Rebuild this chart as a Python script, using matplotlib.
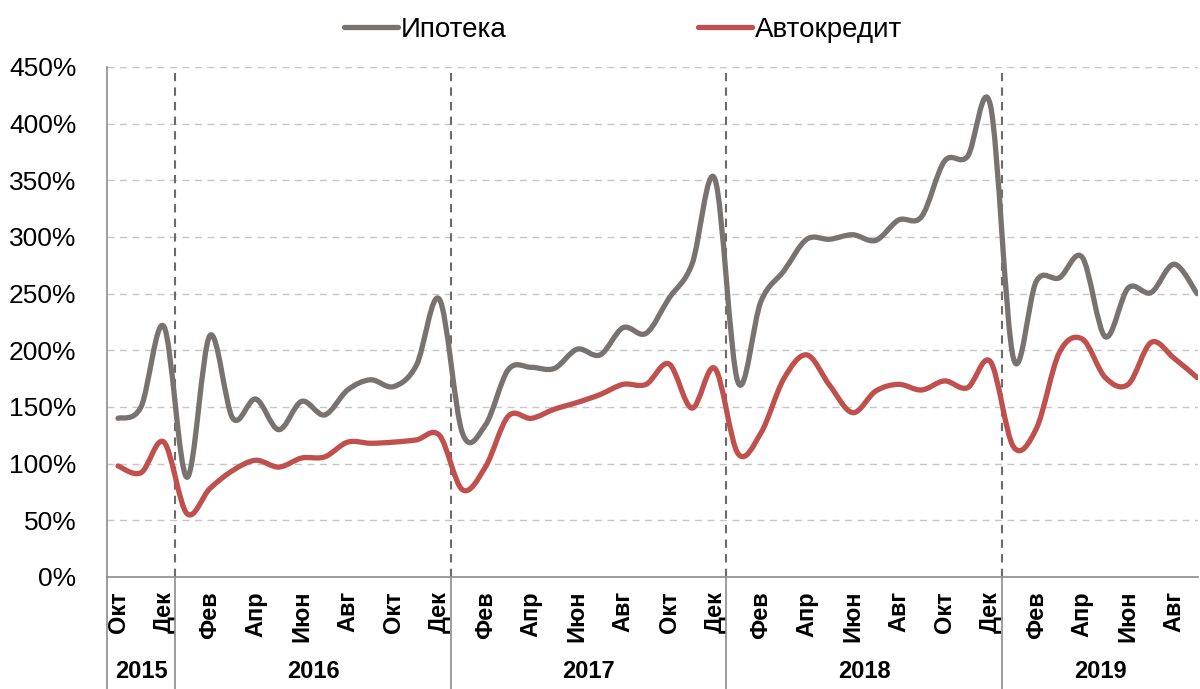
import numpy as np
import matplotlib
matplotlib.use('Agg')
import matplotlib.pyplot as plt
from matplotlib.path import Path
from matplotlib.patches import PathPatch
from matplotlib.lines import Line2D
import matplotlib.transforms as mtransforms
from matplotlib import font_manager

# ---------------- data ----------------
month_names = ['Янв', 'Фев', 'Мар', 'Апр', 'Май', 'Июн',
               'Июл', 'Авг', 'Сен', 'Окт', 'Ноя', 'Дек']
years = ['2015', '2016', '2017', '2018', '2019']
year_counts = [3, 12, 12, 12, 9]
start_month = 9  # Oct 2015

mortgage = [140, 150, 221, 88, 213, 140, 157, 130, 155, 143, 165, 174, 168, 187, 245,
            127, 134, 183, 185, 184, 201, 196, 220, 215, 246, 276, 351,
            172, 243, 270, 298, 298, 302, 297, 315, 318, 367, 371, 416,
            193, 261, 264, 282, 212, 255, 251, 276, 250]
autoloan = [98, 92, 119, 56, 78, 94, 103, 97, 105, 106, 119, 118, 119, 121, 125,
            77, 97, 142, 140, 148, 154, 161, 170, 170, 188, 149, 184,
            109, 127, 175, 196, 169, 145, 164, 170, 165, 173, 167, 190,
            115, 131, 198, 210, 176, 170, 207, 193, 176]
series_names = ['Ипотека', 'Автокредит']
yticks = [0, 50, 100, 150, 200, 250, 300, 350, 400, 450]

# ---------------- fonts ----------------
avail = {f.name for f in font_manager.fontManager.ttflist}
narrow = 'Liberation Sans Narrow' if 'Liberation Sans Narrow' in avail else 'Liberation Sans'
plt.rcParams['font.family'] = [narrow, 'DejaVu Sans']

GRAY = '#787371'
RED = '#C0504D'

n = len(mortgage)
x = np.arange(n)
labels = [month_names[(start_month + i) % 12] for i in range(n)]

fig = plt.figure(figsize=(12, 6.89), dpi=100)
ax = fig.add_axes([107/1200, 1 - 577/689, (1198-107)/1200, (577-67)/689])
ax.set_xlim(-0.48, 47.04)
ax.set_ylim(0, 450)


def smooth_path(xs, ys):
    xs = np.asarray(xs, float)
    ys = np.asarray(ys, float)
    P = np.column_stack([xs, ys])
    verts = [P[0]]
    codes = [Path.MOVETO]
    m = len(P)
    for i in range(m - 1):
        p0 = P[i - 1] if i > 0 else P[i]
        p1 = P[i]
        p2 = P[i + 1]
        p3 = P[i + 2] if i + 2 < m else P[i + 1]
        c1 = p1 + (p2 - p0) / 6.0
        c2 = p2 - (p3 - p1) / 6.0
        verts += [c1, c2, p2]
        codes += [Path.CURVE4] * 3
    return Path(verts, codes)


for vals, col in [(mortgage, GRAY), (autoloan, RED)]:
    patch = PathPatch(smooth_path(x, vals), facecolor='none', edgecolor=col,
                      lw=3.8, capstyle='round', joinstyle='round', zorder=5)
    ax.add_patch(patch)

# grid
for yv in yticks[1:]:
    ax.axhline(yv, color='#C6C6C6', lw=1.0, ls=(0, (5, 4)), zorder=1)

ax.set_yticks(yticks)
ax.set_yticklabels([f'{v}%' for v in yticks], fontsize=19)
ax.tick_params(axis='y', length=0, pad=22)
ax.set_xticks([])

for s in ['top', 'right']:
    ax.spines[s].set_visible(False)
ax.spines['left'].set_color('#8C8C8C')
ax.spines['bottom'].set_color('#8C8C8C')
ax.spines['left'].set_linewidth(1.2)
ax.spines['bottom'].set_linewidth(1.2)

# year separators
bounds = np.cumsum(year_counts)[:-1] - 0.5
for b in bounds:
    ax.plot([b, b], [0, 445], color='#6E6A68', lw=1.5, ls=(0, (4, 3)), zorder=2)

trans = mtransforms.blended_transform_factory(ax.transData, fig.transFigure)
axis_y = 1 - 577/689
for b in list(bounds) + [-0.48]:
    ln = Line2D([b, b], [0, axis_y], transform=trans, color='#8C8C8C', lw=1.2)
    ln.set_clip_on(False)
    fig.add_artist(ln)

# month labels
for i in range(0, n, 2):
    ax.text(i, 1 - 591/689, labels[i], transform=trans, fontsize=17,
            fontweight='bold', rotation=90, ha='center', va='top',
            family=['Liberation Sans', 'DejaVu Sans'], clip_on=False)

# year labels
edges = np.concatenate([[-0.48], bounds, [47.04]])
for k, yr in enumerate(years):
    cx = (edges[k] + edges[k + 1]) / 2
    ax.text(cx, 1 - 671/689, yr, transform=trans, fontsize=17, fontweight='bold',
            ha='center', va='center', clip_on=False)

# legend
handles = [Line2D([], [], color=GRAY, lw=3.8, solid_capstyle='round'),
           Line2D([], [], color=RED, lw=3.8, solid_capstyle='round')]
fig.legend(handles, series_names, loc='upper center', bbox_to_anchor=(0.519, 1.012),
           ncol=2, frameon=False, fontsize=20, handlelength=1.95,
           handletextpad=0.1, columnspacing=6.9)

fig.savefig('out.png', dpi=100)
